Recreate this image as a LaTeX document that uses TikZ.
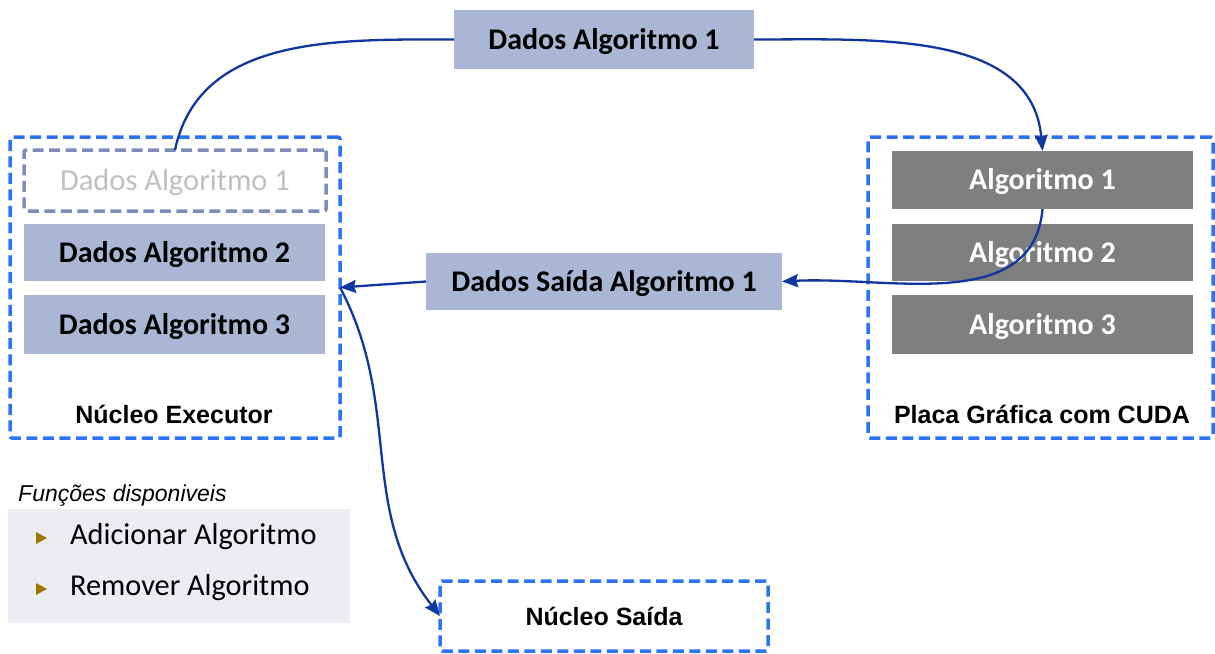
\documentclass[tikz,border=0pt]{standalone}
\usepackage{fontspec}
\setmainfont{Carlito}
\newfontfamily\arialf{Liberation Sans}
\usetikzlibrary{arrows.meta}
\definecolor{bluedash}{RGB}{45,115,250}
\definecolor{innerdash}{RGB}{124,141,185}
\definecolor{lightbox}{RGB}{169,183,212}
\definecolor{darkbox}{RGB}{127,127,127}
\definecolor{arrowc}{RGB}{16,55,160}
\definecolor{panel}{RGB}{236,237,242}
\definecolor{bulletc}{RGB}{156,118,0}
\definecolor{fadetext}{RGB}{191,191,191}
\tikzset{
  container/.style={draw=bluedash, line width=3.5pt, dash pattern=on 11pt off 5.5pt, rounded corners=2pt, minimum width=#1, inner sep=0pt, outer sep=0pt},
  databox/.style={fill=lightbox, minimum width=301pt, inner sep=0pt, outer sep=0pt, text height=19.3pt, text depth=0pt, font=\fontsize{30}{31}\selectfont\bfseries},
  algbox/.style={fill=darkbox, text=white, minimum width=301pt, inner sep=0pt, outer sep=0pt, text height=19.3pt, text depth=0pt, font=\fontsize{30}{31}\selectfont\bfseries},
  lbl/.style={font=\arialf\fontsize{25}{26}\selectfont\bfseries, inner sep=0pt},
  conn/.style={draw=arrowc, line width=2.3pt},
  tip/.style={-{Stealth[length=16pt,width=13pt,inset=2pt]}},
  bullet/.style={fill=bulletc, draw=none}
}
\begin{document}
\begin{tikzpicture}[x=1pt,y=-1pt]
\useasboundingbox (0,0) rectangle (1215,653);
% containers
\node[container=330pt, minimum height=301pt] (lc) at (175,287.5) {};
\node[container=345pt, minimum height=301pt] (rc) at (1040.5,287.5) {};
% top box
\node[databox, minimum width=300pt, minimum height=59pt] (top) at (604,39.5) {Dados Algoritmo 1};
% left inner boxes
\node[draw=innerdash, line width=3.5pt, dash pattern=on 11pt off 5.5pt, rounded corners=2pt, minimum width=302pt, minimum height=61pt, inner sep=0pt, outer sep=0pt, text=fadetext, text height=19.6pt, text depth=0pt, font=\fontsize{30.5}{31}\selectfont] (d1) at (175,180.5) {Dados Algoritmo 1};
\node[databox, minimum height=57pt] (d2) at (174.5,252.5) {Dados Algoritmo 2};
\node[databox, minimum height=59pt] (d3) at (174.5,324.5) {Dados Algoritmo 3};
\node[lbl] (lcl) at (174,414) {Núcleo Executor};
% right inner boxes
\node[algbox, minimum height=58pt] (a1) at (1042.5,180) {Algoritmo 1};
\node[algbox, minimum height=57pt] (a2) at (1042.5,252.5) {Algoritmo 2};
\node[algbox, minimum height=59pt] (a3) at (1042.5,324.5) {Algoritmo 3};
\node[lbl] (rcl) at (1042,414) {Placa Gráfica com CUDA};
% output data
\node[databox, minimum width=356pt, minimum height=57pt] (sai) at (604,281.5) {Dados Saída Algoritmo 1};
% functions panel
\node[anchor=west, inner sep=0pt, font=\arialf\fontsize{23}{24}\selectfont\itshape] (ftitle) at (18,496) {Funções disponiveis};
\node[fill=panel, minimum width=342pt, minimum height=114pt, inner sep=0pt] (panel) at (179,566) {};
\node[anchor=west, inner sep=0pt, font=\fontsize{30.3}{31}\selectfont] (f1) at (70,537) {Adicionar Algoritmo};
\node[anchor=west, inner sep=0pt, font=\fontsize{30.3}{31}\selectfont] (f2) at (70,588) {Remover Algoritmo};
\fill[bullet] (36,532) -- (47,538) -- (36,544) -- cycle;
\fill[bullet] (36,583) -- (47,589) -- (36,595) -- cycle;
% output nucleus
\node[container=328pt, minimum height=70pt, font=\arialf\fontsize{25}{26}\selectfont\bfseries] (ns) at (604,616) {Núcleo Saída};
% connectors
\draw[conn] (d1.north) to[out=78,in=180] (top.west);
\draw[conn,tip] (top.east) to[out=0,in=95] (a1.north);
\draw[conn,tip] (a1.south) to[out=-95,in=3] (sai.east);
\draw[conn,tip] (sai.west) -- (lc.east);
\draw[conn,tip] (lc.east) to[out=-62,in=128] (ns.west);
\end{tikzpicture}
\end{document}
